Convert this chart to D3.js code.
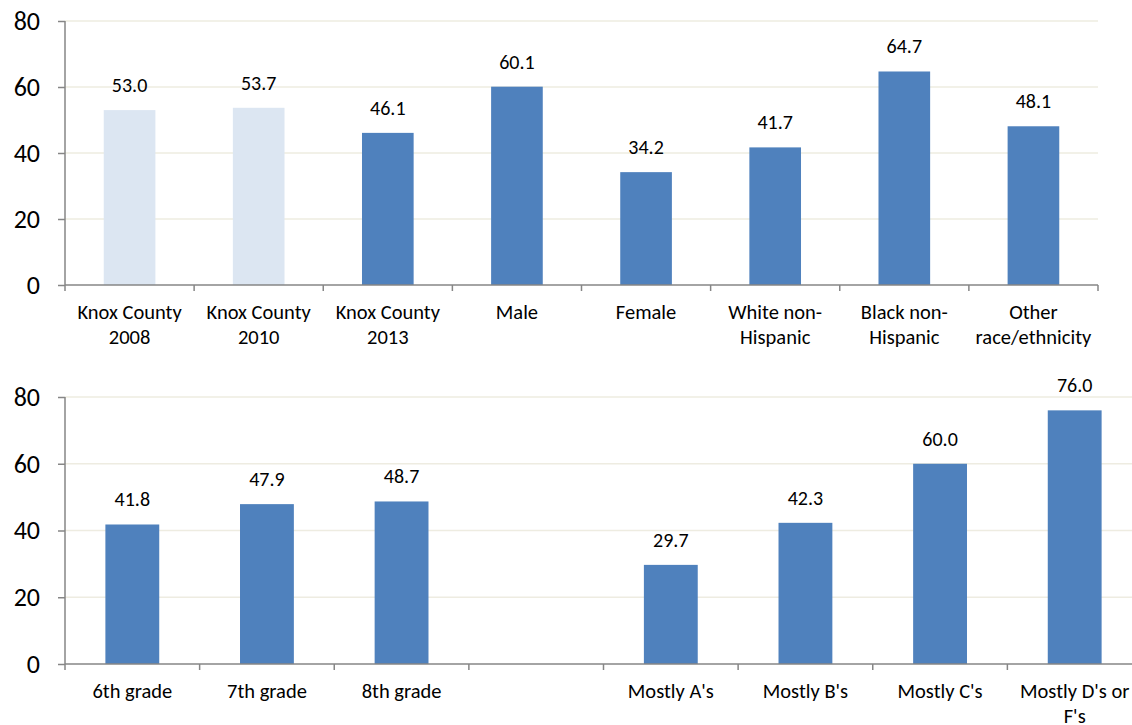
<!DOCTYPE html>
<html>
<head>
<meta charset="utf-8">
<script src="https://cdn.jsdelivr.net/npm/d3@7"></script>
<style>
  body { margin: 0; background: #fff; }
  text { font-family: Carlito, Calibri, "Open Sans", sans-serif; fill: #000; }
</style>
</head>
<body>
<script>
var width = 1132, height = 725;

// top chart data
var topCategories = ["Knox County\n2008", "Knox County\n2010", "Knox County\n2013", "Male", "Female",
                     "White non-\nHispanic", "Black non-\nHispanic", "Other\nrace/ethnicity"];
var topValues = [53.0, 53.7, 46.1, 60.1, 34.2, 41.7, 64.7, 48.1];
var topColors = ["#dce6f2", "#dce6f2", "#4f81bd", "#4f81bd", "#4f81bd", "#4f81bd", "#4f81bd", "#4f81bd"];

// bottom chart data (one empty slot between grade and marks)
var bottomCategories = ["6th grade", "7th grade", "8th grade", " ", "Mostly A's", "Mostly B's", "Mostly C's", "Mostly D's or\nF's"];
var bottomValues = [41.8, 47.9, 48.7, null, 29.7, 42.3, 60.0, 76.0];

var yTicks = [0, 20, 40, 60, 80];

var svg = d3.select("body").append("svg")
    .attr("width", width)
    .attr("height", height);

function drawChart(cats, vals, colors, x0, x1, y0, y1) {
    var g = svg.append("g");

    var x = d3.scaleBand()
        .domain(cats)
        .range([x0, x1])
        .paddingInner(0.6)
        .paddingOuter(0.3);

    var y = d3.scaleLinear()
        .domain([0, 80])
        .range([y0, y1]);

    // grid lines
    g.selectAll("line.grid")
        .data(yTicks.slice(1))
        .enter().append("line")
        .attr("x1", x0).attr("x2", x1)
        .attr("y1", function(d) { return y(d); })
        .attr("y2", function(d) { return y(d); })
        .attr("stroke", "#eeece1")
        .attr("stroke-width", 1.5);

    var shown = cats.filter(function(c, i) { return vals[i] != null; });

    // bars
    g.selectAll("rect")
        .data(shown)
        .enter().append("rect")
        .attr("x", function(d) { return x(d); })
        .attr("width", x.bandwidth())
        .attr("y", function(d) { return y(vals[cats.indexOf(d)]); })
        .attr("height", function(d) { return y(0) - y(vals[cats.indexOf(d)]); })
        .attr("fill", function(d) { return colors ? colors[cats.indexOf(d)] : "#4f81bd"; });

    // value labels
    g.selectAll("text.val")
        .data(shown)
        .enter().append("text")
        .attr("x", function(d) { return x(d) + x.bandwidth() / 2; })
        .attr("y", function(d) { return y(vals[cats.indexOf(d)]) - 18; })
        .attr("text-anchor", "middle")
        .style("font-size", "20px")
        .text(function(d) { return vals[cats.indexOf(d)].toFixed(1); });

    // y axis
    var yAxis = g.append("g")
        .attr("transform", "translate(" + x0 + ",0)")
        .call(d3.axisLeft(y).tickValues(yTicks).tickSize(7).tickPadding(18));
    yAxis.selectAll("text").style("font-size", "26px").attr("fill", "#000");
    yAxis.selectAll("line, path").attr("stroke", "#868686").attr("stroke-width", 1.5);
    yAxis.select("path").attr("d", "M0," + y1 + "V" + y0);

    // x axis
    var step = x.step();
    g.append("line")
        .attr("x1", x0).attr("x2", x1)
        .attr("y1", y0).attr("y2", y0)
        .attr("stroke", "#868686").attr("stroke-width", 1.5);
    g.selectAll("line.xtick")
        .data(d3.range(cats.length + 1))
        .enter().append("line")
        .attr("x1", function(i) { return x0 + i * step; })
        .attr("x2", function(i) { return x0 + i * step; })
        .attr("y1", y0).attr("y2", y0 + 6)
        .attr("stroke", "#868686").attr("stroke-width", 1.5);

    // category labels
    var labels = g.selectAll("text.cat")
        .data(cats)
        .enter().append("text")
        .attr("text-anchor", "middle")
        .attr("transform", function(d) { return "translate(" + (x(d) + x.bandwidth() / 2) + "," + (y0 + 34) + ")"; })
        .style("font-size", "20.5px");
    labels.selectAll("tspan")
        .data(function(d) { return d.split("\n"); })
        .enter().append("tspan")
        .attr("x", 0)
        .attr("dy", function(d, i) { return i ? 25 : 0; })
        .text(function(d) { return d; });
}

drawChart(topCategories, topValues, topColors, 65, 1098, 285, 21);
drawChart(bottomCategories, bottomValues, null, 65, 1142, 664, 397);
</script>
</body>
</html>
